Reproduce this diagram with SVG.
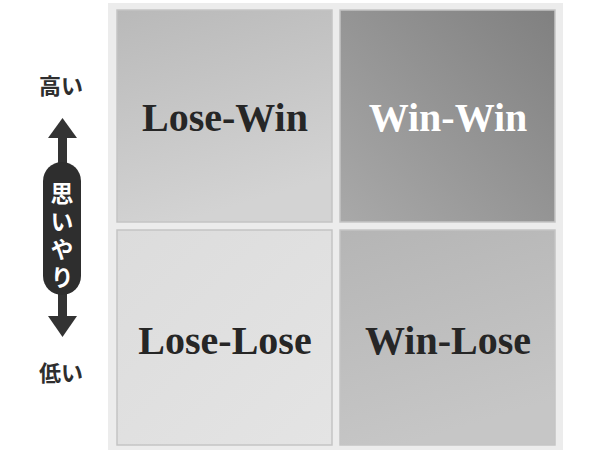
<svg xmlns="http://www.w3.org/2000/svg" width="595" height="450" viewBox="0 0 595 450">
<defs>
<style>
.q{stroke:#c4c4c4;stroke-width:1.5}
.lbl{font-family:"Liberation Serif","Times New Roman",serif;font-weight:bold;font-size:40px;text-anchor:middle}
.jp{font-family:"Noto Sans CJK JP","Noto Sans CJK SC",sans-serif;font-weight:bold;font-size:22px;text-anchor:middle}
.jpw{font-family:"Noto Sans CJK JP","Noto Sans CJK SC",sans-serif;font-weight:bold;font-size:23px;text-anchor:middle;fill:#ffffff;writing-mode:vertical-rl;letter-spacing:5px}
</style>
<linearGradient id="gTL" x1="0" y1="0" x2="0.3" y2="1"><stop offset="0" stop-color="#b9b9b9"/><stop offset="1" stop-color="#d3d3d3"/></linearGradient>
<linearGradient id="gTR" x1="1" y1="0" x2="0" y2="1"><stop offset="0" stop-color="#808080"/><stop offset="1" stop-color="#a9a9a9"/></linearGradient>
<linearGradient id="gBL" x1="0" y1="0" x2="1" y2="1"><stop offset="0" stop-color="#dcdcdc"/><stop offset="1" stop-color="#e4e4e4"/></linearGradient>
<linearGradient id="gBR" x1="0" y1="0" x2="0.3" y2="1"><stop offset="0" stop-color="#b5b5b5"/><stop offset="1" stop-color="#c6c6c6"/></linearGradient>
</defs>
<rect width="595" height="450" fill="#ffffff"/>
<rect x="108" y="3" width="455" height="447" fill="#ececec"/>
<g id="lose-win"><rect class="q" x="117" y="10" width="215" height="212" fill="url(#gTL)"/><text class="lbl" x="225" y="131" fill="#262626">Lose-Win</text></g>
<g id="win-win"><rect class="q" x="340" y="10" width="215" height="212" fill="url(#gTR)"/><text class="lbl" x="448" y="131" fill="#ffffff">Win-Win</text></g>
<g id="lose-lose"><rect class="q" x="117" y="230" width="215" height="215" fill="url(#gBL)"/><text class="lbl" x="225" y="354" fill="#262626">Lose-Lose</text></g>
<g id="win-lose"><rect class="q" x="340" y="230" width="215" height="215" fill="url(#gBR)"/><text class="lbl" x="448" y="354" fill="#262626">Win-Lose</text></g>
<g id="axis">
<text class="jp" x="61" y="94" fill="#2e2e2e">高い</text>
<rect x="58" y="132" width="9" height="190" fill="#333333"/>
<polygon points="62.5,118 77,138 48,138" fill="#333333"/>
<polygon points="62.5,337 77,316 48,316" fill="#333333"/>
<rect x="43" y="162" width="38" height="133" rx="19" ry="19" fill="#2e2e2e"/>
<text class="jpw" x="62" y="238">思いやり</text>
<text class="jp" x="61" y="381" fill="#2e2e2e">低い</text>
</g>
</svg>
